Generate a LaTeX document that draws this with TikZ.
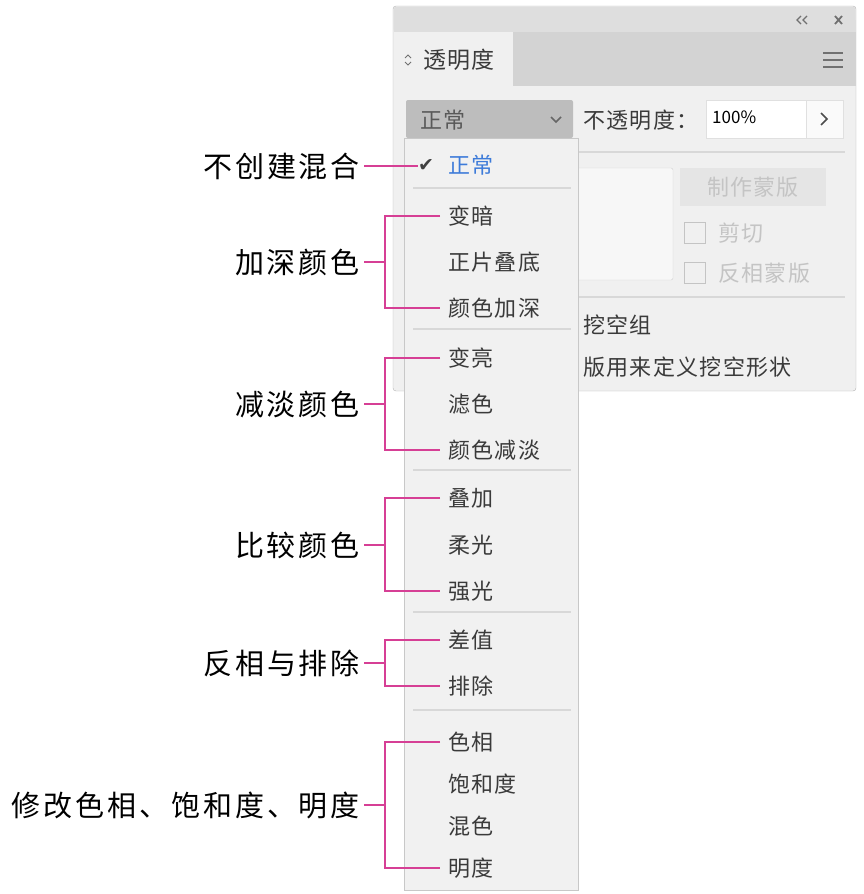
\documentclass[tikz,border=0pt]{standalone}
\usepackage{fontspec}
\setmainfont{Noto Sans CJK SC}
\newfontfamily\lblfont[LetterSpace=10]{Noto Sans CJK SC}
\newfontfamily\uifont[LetterSpace=6]{Noto Sans CJK SC}
\newfontfamily\symfont{DejaVu Sans}
\usetikzlibrary{positioning,calc}
\definecolor{mag}{HTML}{D63F95}
\definecolor{bodygray}{HTML}{F0F0F0}
\definecolor{titlegray}{HTML}{DEDEDE}
\definecolor{stripgray}{HTML}{D3D3D3}
\definecolor{bordergray}{HTML}{B4B4B4}
\definecolor{dropgray}{HTML}{BDBDBD}
\definecolor{menugray}{HTML}{F1F1F1}
\definecolor{menuborder}{HTML}{C8C8C8}
\definecolor{sepgray}{HTML}{D8D8D8}
\definecolor{itemgray}{HTML}{3A3A3A}
\definecolor{itemblue}{HTML}{3D7BD9}
\definecolor{dimgray}{HTML}{C4C4C4}
\definecolor{icongray}{HTML}{707070}
\tikzstyle{mline}=[draw=mag,line width=1.6pt]

\begin{document}
\begin{tikzpicture}
  [x=1pt,y=-1pt,
   item/.style={anchor=west,inner xsep=8pt,inner ysep=0pt,text=itemgray,
                font=\uifont\fontsize{22}{22}\selectfont},
   ui/.style={anchor=west,inner sep=0pt,text=itemgray,
              font=\uifont\fontsize{22}{22}\selectfont},
   dim/.style={ui,text=dimgray},
   lbl/.style={anchor=east,inner sep=0pt,text=black,
               font=\lblfont\fontsize{29}{29}\selectfont},
   sep/.style={draw=sepgray,line width=1.2pt},
   icon/.style={draw=icongray,line width=1.3pt}
  ]
  \useasboundingbox (0,0) rectangle (864,894);

  % panel
  \draw[draw=bordergray,fill=bodygray,rounded corners=3pt] (393,6) rectangle (856,391);
  \fill[titlegray,rounded corners=3pt] (393.5,6.5) rectangle (855.5,32);
  \fill[titlegray] (393.5,20) rectangle (855.5,32);
  \fill[stripgray] (393.5,32) rectangle (855.5,86);
  \fill[bodygray] (393.5,32) rectangle (513,86);
  \draw[icon] (801,16) -- (797,20) -- (801,24) (807,16) -- (803,20) -- (807,24);
  \draw[icon,line width=1.8pt] (835,16) -- (842,24) (835,24) -- (842,16);
  \foreach \y in {53,60,67}
    \draw[icon,line width=1.2pt] (823,\y) -- (843,\y);
  \draw[icon,line width=1pt] (405,58) -- (408,55) -- (411,58) (405,62) -- (408,65) -- (411,62);
  \node[ui,font=\uifont\fontsize{23}{23}\selectfont] (title) at (423,60) {透明度};

  % mode box and opacity
  \fill[dropgray,rounded corners=2pt] (406,100) rectangle (573,138);
  \node[ui,text=black!65] (mode) at (420,120) {正常};
  \draw[draw=black!60,line width=1.5pt] (551,117) -- (556,122) -- (561,117);
  \node[ui] (opac) at (583,120) {不透明度：};
  \draw[draw=black!12,fill=white] (706,100) rectangle (806,138);
  \node[ui,font=\fontsize{17}{17}\selectfont,text=black] (val) at (712,117) {100\%};
  \draw[draw=black!12,fill=black!2] (806,100) rectangle (843,138);
  \draw[draw=black!70,line width=1.6pt] (821,113) -- (827,119) -- (821,125);
  \draw[sep] (406,152) -- (845,152);

  % mask area
  \draw[draw=black!18,fill=black!3,rounded corners=2pt] (560,168) rectangle (673,280);
  \fill[black!10] (680,168) rectangle (826,206);
  \node[dim,anchor=center] (mask) at (753,187) {制作蒙版};
  \draw[draw=dimgray,line width=1pt] (684,222) rectangle (705,243);
  \node[dim] (clip) at (718,233) {剪切};
  \draw[draw=dimgray,line width=1pt] (684,262) rectangle (705,283);
  \node[dim] (inv) at (718,273) {反相蒙版};
  \draw[sep] (560,297) -- (845,297);
  \node[ui] (knock) at (583,325) {挖空组};
  \node[ui] (shape) at (583,367) {版用来定义挖空形状};

  % menu
  \draw[draw=menuborder,fill=menugray] (404.5,138) rectangle (578,890);
  \foreach \y in {188,329,470,612,710}
    \draw[sep] (413,\y) -- (571,\y);
  \node[item,text=itemblue] (m1) at (440,165) {正常};
  \node[inner sep=0pt,text=black!75,font=\symfont\fontsize{19}{19}\selectfont] (chk) at (426,166) {✔};
  \foreach \t/\y [count=\i from 2] in {变暗/216,正片叠底/262,颜色加深/308,变亮/358,滤色/404,
      颜色减淡/450,叠加/498,柔光/545,强光/591,差值/640,排除/686,色相/742,饱和度/784,混色/826,明度/868}
    \node[item] (m\i) at (440,\y) {\t};

  % labels
  \node[lbl] (l1) at (360,166) {不创建混合};
  \draw[mline] (l1.east) ++(4,0) -- (chk.west);
  \foreach \a/\b/\t/\y in {2/4/加深颜色/262,5/7/减淡颜色/404,8/10/比较颜色/545,
      11/12/反相与排除/663,13/16/修改色相、饱和度、明度/805}
  {
    \node[lbl] (l\a) at (360,\y) {\t};
    \draw[mline] (m\a.west) -- ++(-55,0) coordinate (b\a) |- (m\b.west);
    \draw[mline] (l\a.east) ++(4,0) -- (l\a.east -| b\a);
  }
\end{tikzpicture}
\end{document}
